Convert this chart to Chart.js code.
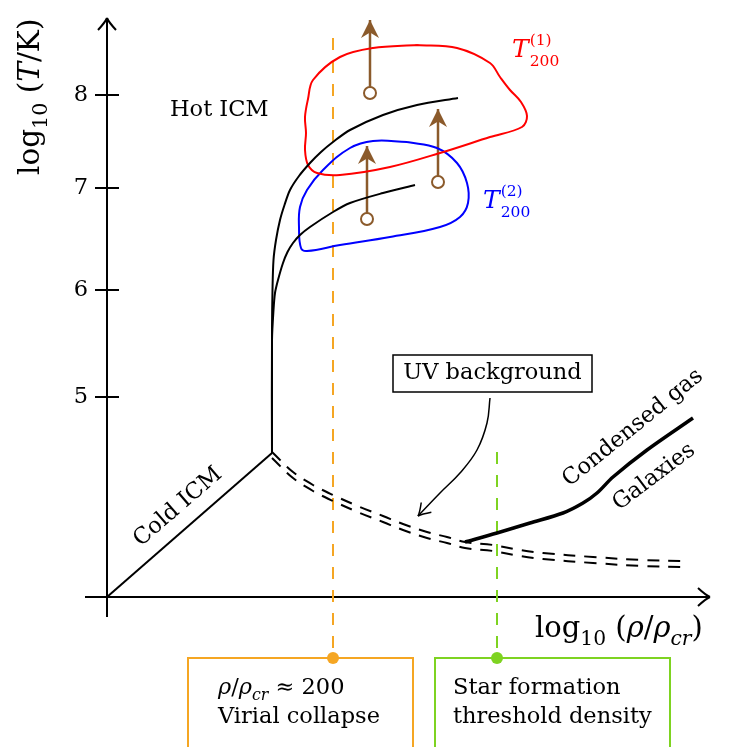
<!DOCTYPE html>
<html>
<head>
<meta charset="utf-8">
<script src="https://cdn.jsdelivr.net/npm/chart.js@4.4.0/dist/chart.umd.min.js"></script>
<style>
  html, body { margin: 0; padding: 0; background: #fff; }
  canvas { display: block; }
</style>
</head>
<body>
<canvas id="phaseChart" width="729" height="747"></canvas>
<script>
// schematic units: x ~ log10(rho/rho_cr), y ~ log10(T/K), origin at the axes corner
const yTickValues = [2.0, 3.07, 4.09, 5.02];
const yTickLabels = ['5', '6', '7', '8'];

const coldX = [0, 1.65];
const coldY = [0, 1.44];

const hotUpperX = [1.65, 1.65, 1.655, 1.665, 1.69, 1.73, 1.775, 1.83, 1.92, 2.03, 2.14, 2.26, 2.43, 2.76, 3.10, 3.51];
const hotUpperY = [1.44, 2.67, 3.07, 3.37, 3.57, 3.77, 3.92, 4.07, 4.21, 4.34, 4.45, 4.55, 4.67, 4.82, 4.92, 4.99];

const hotLowerX = [1.65, 1.65, 1.665, 1.68, 1.71, 1.76, 1.805, 1.86, 1.93, 2.03, 2.26, 2.43, 2.76, 3.08];
const hotLowerY = [1.44, 2.57, 2.87, 3.04, 3.17, 3.34, 3.45, 3.54, 3.62, 3.70, 3.85, 3.94, 4.04, 4.12];

const t200aX = [3.10, 3.50, 3.83, 3.93, 4.03, 4.14, 4.20, 4.15, 3.83, 3.33, 2.83, 2.33, 2.10, 2.01, 1.98, 1.99, 1.98, 2.01, 2.06, 2.33, 2.66, 3.10];
const t200aY = [5.52, 5.49, 5.34, 5.20, 5.07, 4.95, 4.81, 4.70, 4.60, 4.44, 4.30, 4.22, 4.24, 4.32, 4.47, 4.64, 4.80, 4.98, 5.17, 5.40, 5.49, 5.52];

const t200bX = [3.00, 3.30, 3.50, 3.60, 3.61, 3.53, 3.33, 2.83, 2.33, 2.00, 1.94, 1.92, 1.93, 2.00, 2.16, 2.43, 2.66, 3.00];
const t200bY = [4.55, 4.49, 4.34, 4.14, 3.94, 3.80, 3.70, 3.60, 3.52, 3.46, 3.49, 3.70, 3.90, 4.07, 4.27, 4.49, 4.56, 4.55];

const coolX = [1.65, 1.86, 2.06, 2.26, 2.53, 2.76, 2.96, 3.20, 3.40, 3.58, 3.86, 4.13, 4.36, 4.86, 5.36, 5.76];
const coolY = [1.42, 1.22, 1.09, 0.99, 0.87, 0.78, 0.70, 0.62, 0.57, 0.52, 0.49, 0.44, 0.41, 0.37, 0.34, 0.33];

const condX = [3.58, 3.90, 4.23, 4.56, 4.76, 4.90, 5.06, 5.40, 5.86];
const condY = [0.55, 0.64, 0.74, 0.84, 0.94, 1.04, 1.20, 1.47, 1.79];

const uvX = [3.83, 3.80, 3.70, 3.53, 3.33, 3.11];
const uvY = [1.99, 1.74, 1.47, 1.24, 1.04, 0.81];

const virialX = 2.26;
const virialY = [5.59, -0.61];
const starFormX = 3.90;
const starFormY = [1.45, -0.61];

const heatX = [2.63, 2.60, 3.31];
const heatFrom = [5.04, 3.78, 4.15];
const heatTo = [5.77, 4.51, 4.88];

const FONT = "'DejaVu Serif', serif";
const ORANGE = '#f5a623';
const GREEN = '#7ed321';
const BROWN = '#8b5a2b';

const pts = (xs, ys) => xs.map((x, i) => ({ x: x, y: ys[i] }));
const font = (size, italic) => (italic ? 'italic ' : '') + size + 'px ' + FONT;

function drawRich(ctx, x0, y0, parts, size) {
    let cx = x0;
    for (const p of parts) {
        if (p.stack) {
            ctx.font = font(size * 0.62, false);
            ctx.fillText(p.stack[0], cx, y0 - size * 0.5);
            ctx.fillText(p.stack[1], cx, y0 + size * 0.36);
            cx += Math.max(ctx.measureText(p.stack[0]).width, ctx.measureText(p.stack[1]).width);
            continue;
        }
        const s = p.sub ? size * 0.7 : size;
        ctx.font = font(s, p.it);
        ctx.fillText(p.t, cx, y0 + (p.sub ? size * 0.28 : 0));
        cx += ctx.measureText(p.t).width + (p.gap || 0);
    }
}

function openHead(ctx, tx, ty, ang, len, half) {
    const ux = Math.cos(ang), uy = Math.sin(ang), nx = -uy, ny = ux;
    ctx.beginPath();
    [1, -1].forEach(sgn => {
        ctx.moveTo(tx - ux * len + sgn * nx * half, ty - uy * len + sgn * ny * half);
        ctx.quadraticCurveTo(tx - ux * len * 0.35 + sgn * nx * half * 0.2,
            ty - uy * len * 0.35 + sgn * ny * half * 0.2, tx, ty);
    });
    ctx.stroke();
}

function stealthHead(ctx, tx, ty, ang, len, half) {
    const ux = Math.cos(ang), uy = Math.sin(ang), nx = -uy, ny = ux;
    ctx.beginPath();
    ctx.moveTo(tx, ty);
    ctx.lineTo(tx - ux * len + nx * half, ty - uy * len + ny * half);
    ctx.lineTo(tx - ux * len * 0.7, ty - uy * len * 0.7);
    ctx.lineTo(tx - ux * len - nx * half, ty - uy * len - ny * half);
    ctx.closePath();
    ctx.fill();
}

function rotText(ctx, text, x, y, deg, size) {
    ctx.save();
    ctx.translate(x, y);
    ctx.rotate(deg * Math.PI / 180);
    ctx.textAlign = 'center';
    ctx.textBaseline = 'middle';
    ctx.font = font(size);
    ctx.fillText(text, 0, 0);
    ctx.restore();
}

const sketchPlugin = {
    id: 'sketch',
    beforeDatasetsDraw(chart) {
        const { ctx, scales: { x, y } } = chart;
        const px = v => x.getPixelForValue(v);
        const py = v => y.getPixelForValue(v);
        ctx.save();
        ctx.strokeStyle = '#000';
        ctx.lineWidth = 2;
        // axes
        ctx.beginPath();
        ctx.moveTo(px(-0.22), py(0)); ctx.lineTo(px(6.03), py(0));
        ctx.moveTo(px(0), py(-0.20)); ctx.lineTo(px(0), py(5.79));
        yTickValues.forEach(v => {
            ctx.moveTo(px(0) - 12, py(v)); ctx.lineTo(px(0) + 12, py(v));
        });
        ctx.stroke();
        openHead(ctx, px(6.03), py(0), 0, 12, 9);
        openHead(ctx, px(0), py(5.79), -Math.PI / 2, 12, 9);

        // threshold boxes
        ctx.lineWidth = 2;
        ctx.strokeStyle = ORANGE;
        ctx.strokeRect(px(0.81), py(-0.61), px(3.06) - px(0.81), 200);
        ctx.strokeStyle = GREEN;
        ctx.strokeRect(px(3.28), py(-0.61), px(5.63) - px(3.28), 200);

        // UV box
        ctx.strokeStyle = '#000';
        ctx.lineWidth = 1.5;
        ctx.strokeRect(px(2.86), py(2.42), px(4.85) - px(2.86), py(2.05) - py(2.42));
        ctx.restore();
    },
    afterDatasetsDraw(chart) {
        const { ctx, scales: { x, y } } = chart;
        const px = v => x.getPixelForValue(v);
        const py = v => y.getPixelForValue(v);
        ctx.save();

        // arrow heads
        chart.data.datasets.forEach((ds, i) => {
            if (!ds.head) return;
            const pts2 = chart.getDatasetMeta(i).data;
            const a = pts2[pts2.length - 2], b = pts2[pts2.length - 1];
            const ang = Math.atan2(b.y - a.y, b.x - a.x);
            if (ds.head === 'stealth') {
                ctx.fillStyle = ds.borderColor;
                stealthHead(ctx, b.x, b.y, ang, 18, 9);
            } else {
                ctx.strokeStyle = '#000';
                ctx.lineWidth = 1.5;
                openHead(ctx, b.x, b.y, ang, 12, 7);
            }
        });

        ctx.fillStyle = '#000';
        ctx.textAlign = 'left';
        ctx.textBaseline = 'alphabetic';

        ctx.font = font(22.5);
        ctx.fillText('Hot ICM', px(0.63), py(4.81));
        ctx.textAlign = 'center';
        ctx.textBaseline = 'middle';
        ctx.fillText('UV background', px(3.855), py(2.235));
        ctx.textAlign = 'left';
        ctx.textBaseline = 'alphabetic';

        rotText(ctx, 'Cold ICM', px(0.71), py(0.90), -41, 22.5);
        rotText(ctx, 'Condensed gas', px(5.26), py(1.69), -39, 22.5);
        rotText(ctx, 'Galaxies', px(5.47), py(1.20), -37, 22.5);

        // T200 labels
        ctx.fillStyle = '#ff0000';
        drawRich(ctx, px(4.05), py(5.40), [{ t: 'T', it: true, gap: 1 }, { stack: ['(1)', '200'] }], 25);
        ctx.fillStyle = '#0000ff';
        drawRich(ctx, px(3.76), py(3.89), [{ t: 'T', it: true, gap: 1 }, { stack: ['(2)', '200'] }], 25);

        // axis titles
        ctx.fillStyle = '#000';
        drawRich(ctx, px(4.28), py(-0.40), [
            { t: 'log' }, { t: '10', sub: true }, { t: ' (' }, { t: 'ρ', it: true }, { t: '/' },
            { t: 'ρ', it: true }, { t: 'cr', it: true, sub: true }, { t: ')' }
        ], 29);
        ctx.save();
        ctx.translate(px(-0.68), py(4.22));
        ctx.rotate(-Math.PI / 2);
        drawRich(ctx, 0, 0, [
            { t: 'log' }, { t: '10', sub: true }, { t: ' (' }, { t: 'T', it: true }, { t: '/K)' }
        ], 29.5);
        ctx.restore();

        // box texts
        drawRich(ctx, px(1.11), py(-0.97), [
            { t: 'ρ', it: true }, { t: '/' }, { t: 'ρ', it: true }, { t: 'cr', it: true, sub: true },
            { t: ' ≈ 200' }
        ], 22.5);
        ctx.font = font(22.5);
        ctx.fillText('Virial collapse', px(1.11), py(-1.26));
        ctx.fillText('Star formation', px(3.46), py(-0.97));
        ctx.fillText('threshold density', px(3.46), py(-1.26));
        ctx.restore();
    }
};

const black = (data, extra) => Object.assign({
    data: data, borderColor: '#000', borderWidth: 2, tension: 0.35
}, extra || {});

const datasets = [
    black(pts(coldX, coldY), { tension: 0 }),
    black(pts(hotUpperX, hotUpperY), { tension: 0.3 }),
    black(pts(hotLowerX, hotLowerY), { tension: 0.3 }),
    black(pts(coolX, coolY.map(v => v + 0.03)), { borderDash: [12, 9] }),
    black(pts(coolX, coolY.map(v => v - 0.03)), { borderDash: [12, 9] }),
    black(pts(condX, condY), { borderWidth: 3.5, tension: 0.3 }),
    black(pts(uvX, uvY), { borderWidth: 1.5, tension: 0.4, head: 'open' }),
    { data: pts(t200aX, t200aY), borderColor: '#ff0000', borderWidth: 2, tension: 0.35 },
    { data: pts(t200bX, t200bY), borderColor: '#0000ff', borderWidth: 2, tension: 0.4 },
    {
        data: pts([virialX, virialX], virialY), borderColor: ORANGE, borderWidth: 2, borderDash: [12, 11],
        pointRadius: [0, 6], pointBackgroundColor: ORANGE, pointBorderWidth: 0
    },
    {
        data: pts([starFormX, starFormX], starFormY), borderColor: GREEN, borderWidth: 2, borderDash: [12, 11],
        pointRadius: [0, 6], pointBackgroundColor: GREEN, pointBorderWidth: 0
    }
];

heatX.forEach((hx, i) => {
    datasets.push({
        data: [{ x: hx, y: heatFrom[i] }, { x: hx, y: heatTo[i] }],
        borderColor: BROWN, borderWidth: 2.5, head: 'stealth',
        pointRadius: [6, 0], pointBackgroundColor: '#fff', pointBorderColor: BROWN, pointBorderWidth: 2
    });
});

new Chart(document.getElementById('phaseChart'), {
    type: 'line',
    data: { datasets: datasets },
    options: {
        responsive: false,
        animation: false,
        devicePixelRatio: 1,
        events: [],
        layout: { padding: 0, autoPadding: false },
        elements: { point: { radius: 0 } },
        plugins: { legend: { display: false }, tooltip: { enabled: false } },
        scales: {
            x: { type: 'linear', min: -0.11, max: 6.22, display: false },
            y: {
                type: 'linear',
                min: -1.5,
                max: 5.97,
                grid: { display: false, drawTicks: false },
                border: { display: false },
                afterBuildTicks: s => { s.ticks = yTickValues.map(v => ({ value: v })); },
                afterFit: s => { s.width = 96; s.paddingTop = 0; s.paddingBottom = 0; },
                ticks: {
                    padding: 8,
                    color: '#000',
                    font: { family: FONT, size: 22.5 },
                    callback: (v, i) => yTickLabels[i]
                }
            }
        }
    },
    plugins: [sketchPlugin]
});
</script>
</body>
</html>
